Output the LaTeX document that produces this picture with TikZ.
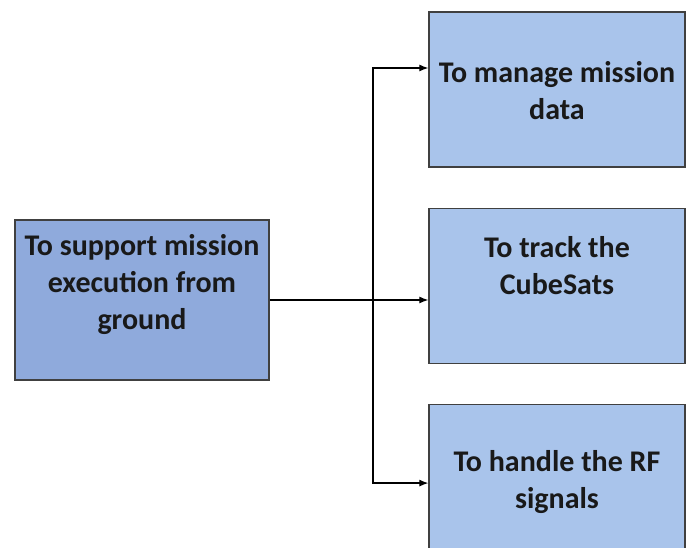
\documentclass[tikz,border=0pt]{standalone}
\usepackage{fontspec}
\setmainfont{Carlito}
\usetikzlibrary{positioning,arrows.meta}
\definecolor{mainblue}{HTML}{8FAADC}
\definecolor{subblue}{HTML}{A9C4EB}

\begin{document}
\begin{tikzpicture}[x=1pt,y=1pt,node distance=40pt,
    box/.style={draw=black!75,line width=1.3pt,fill=subblue,minimum width=256pt,minimum height=155pt,inner sep=0pt},
    txt/.style={align=center,font=\bfseries\fontsize{30}{37}\selectfont,text=black!90},
    >={Latex[length=9pt,width=7pt]}]
    \path[use as bounding box,clip] (0,0) rectangle (686,548);
    \node[box,fill=mainblue,minimum width=254pt,minimum height=160pt] (main) at (142,248) {};
    \node[box] (data) at (557,458.5) {};
    \node[box,below=of data] (track) {};
    \node[box,below=of track] (rf) {};
    \node[txt] (mainT) at ([yshift=15pt]main.center) {To support mission\\execution from\\ground};
    \node[txt] (dataT) at ([yshift=-1pt]data.center) {To manage mission\\data};
    \node[txt] (trackT) at ([yshift=20pt]track.center) {To track the\\CubeSats};
    \node[txt] (rfT) at ([yshift=0pt]rf.center) {To handle the RF\\signals};
    \coordinate (split) at (373,248);
    \draw[->,line width=1.2pt] (main.east) -- (main.east -| track.west);
    \draw[->,line width=1.2pt] (split) |- ([yshift=21.5pt]data.west);
    \draw[->,line width=1.2pt] (split) |- ([yshift=-1pt]rf.west);
\end{tikzpicture}
\end{document}
